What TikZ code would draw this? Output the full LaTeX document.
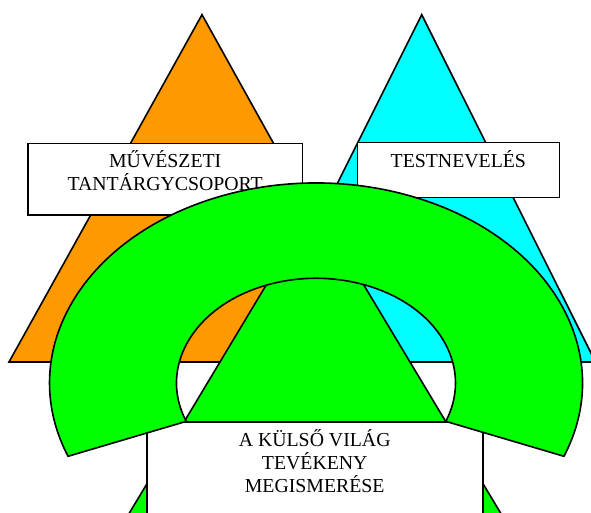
\documentclass[tikz,border=0pt]{standalone}
\usepackage{fontspec}
\setmainfont{Liberation Serif}
\usetikzlibrary{positioning,calc}
\definecolor{ArtOrange}{HTML}{FF9900}
\definecolor{SportCyan}{HTML}{00FFFF}
\definecolor{WorldGreen}{HTML}{00FF00}

\begin{document}
\begin{tikzpicture}[x=1pt, y=1pt, line width=1.6pt,
  every node/.style={font=\fontsize{19.8}{23}\selectfont},
  frame/.style={draw=black, fill=white, inner sep=0pt},
  caption/.style={align=center, inner sep=0pt}]
\useasboundingbox (0,0) rectangle (591,513);
\clip (0,0) rectangle (591,513);
% triangles
\filldraw[fill=ArtOrange] (9,151) -- (202,498.3) -- (395,151) -- cycle;
\filldraw[fill=SportCyan] (248,151) -- (421.7,498.3) -- (595.5,151) -- cycle;
\filldraw[fill=WorldGreen] (123.4,-10) -- (315,309.3) -- (506.6,-10) -- cycle;
% boxes
\node[frame, minimum width=274.3pt, minimum height=71.7pt] (artbox) at (165.2,333.8) {};
\node[caption, below=7.5pt of artbox.north] (arttext) {MŰVÉSZETI\\TANTÁRGYCSOPORT};
\node[frame, minimum width=202pt, minimum height=55pt] (pebox) at (458.3,342.8) {};
\node[caption, below=7.5pt of pebox.north] (petext) {TESTNEVELÉS};
\node[frame, minimum width=336pt, minimum height=110.7pt] (worldbox) at (314.7,35.35) {};
\node[caption, below=7.5pt of worldbox.north] (worldtext) {A KÜLSŐ VILÁG\\TEVÉKENY\\MEGISMERÉSE};
% ring
\coordinate (c) at (316,130);
\draw[fill=WorldGreen] ($(c)+(-21.5:266.5 and 200)$)
  arc[start angle=-21.5, end angle=201.5, x radius=266.5, y radius=200]
  -- ($(c)+(201.5:139.5 and 104.7)$)
  arc[start angle=201.5, end angle=-21.5, x radius=139.5, y radius=104.7] -- cycle;
\end{tikzpicture}
\end{document}
